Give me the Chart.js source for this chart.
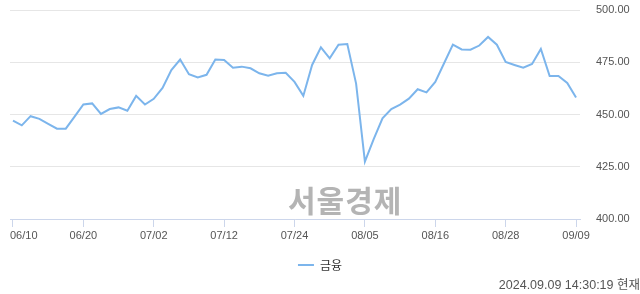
<!DOCTYPE html>
<html lang="ko">
<head>
<meta charset="utf-8">
<script src="https://cdn.jsdelivr.net/npm/chart.js@4/dist/chart.umd.min.js"></script>
<style>
  html, body { margin: 0; padding: 0; background: #fff; }
  #wrap { position: relative; width: 640px; height: 294px; overflow: hidden; }
  #c { position: absolute; left: 0; top: 0; }
  .mark {
    position: absolute; left: 288px; top: 177px;
    font: bold 30px "Noto Sans CJK KR", sans-serif; color: #b4b4b4;
    letter-spacing: 1px; pointer-events: none;
  }
  .stamp {
    position: absolute; right: 0; top: 274px;
    font: 12.5px "Liberation Sans", "Noto Sans CJK KR", sans-serif; color: #555;
    white-space: nowrap;
  }
</style>
</head>
<body>
<div id="wrap">
  <canvas id="c" width="640" height="294"></canvas>
  <div class="mark">서울경제</div>
  <div class="stamp">2024.09.09 14:30:19 현재</div>
</div>
<script>
// Trading days (MM/DD), one per point
const dates = [
  '06/10','06/11','06/12','06/13','06/14','06/17','06/18','06/19','06/20','06/21',
  '06/24','06/25','06/26','06/27','06/28','07/01','07/02','07/03','07/04','07/05',
  '07/08','07/09','07/10','07/11','07/12','07/15','07/16','07/17','07/18','07/19',
  '07/22','07/23','07/24','07/25','07/26','07/29','07/30','07/31','08/01','08/02',
  '08/05','08/06','08/07','08/08','08/09','08/12','08/13','08/14','08/16','08/19',
  '08/20','08/21','08/22','08/23','08/26','08/27','08/28','08/29','08/30','09/02',
  '09/03','09/04','09/05','09/06','09/09'
];

// 금융 index closing values
const finance = [
  447.1, 444.8, 449.2, 447.9, 445.5, 443.2, 443.2, 449.0, 454.8, 455.3,
  450.3, 452.6, 453.4, 451.8, 458.9, 454.8, 457.5, 462.7, 471.3, 476.3,
  469.3, 467.7, 469.0, 476.3, 476.1, 472.4, 472.9, 472.1, 469.7, 468.5,
  469.7, 470.0, 465.6, 458.9, 473.7, 482.1, 476.9, 483.4, 483.7, 464.8,
  427.4, 438.2, 448.2, 452.6, 454.7, 457.6, 462.1, 460.6, 465.6, 474.5,
  483.4, 481.1, 481.0, 483.0, 487.1, 483.4, 475.1, 473.7, 472.4, 474.2,
  481.4, 468.4, 468.4, 465.1, 458.1
];

// Dates shown on the x axis (every 8th trading day)
const xTickIdx = [0, 8, 16, 24, 32, 40, 48, 56, 64];
const yTicks = [400, 425, 450, 475, 500];

const points = finance.map((v, i) => ({ x: i, y: v }));

// Keep the first date label inside the plot's left edge instead of centring it
const firstLabelInside = {
  id: 'firstLabelInside',
  beforeDraw(chart) {
    const sx = chart.scales.x;
    const items = sx.getLabelItems(chart.chartArea);
    if (items && items.length) {
      items[0].options.textAlign = 'left';
      items[0].options.translation = [chart.chartArea.left, items[0].options.translation[1]];
    }
  }
};

new Chart(document.getElementById('c'), {
  type: 'line',
  data: {
    datasets: [{
      label: '금융',
      data: points,
      borderColor: '#7cb5ec',
      backgroundColor: '#7cb5ec',
      borderWidth: 2,
      pointRadius: 0,
      pointHoverRadius: 0,
      tension: 0,
      fill: false
    }]
  },
  plugins: [firstLabelInside],
  options: {
    responsive: false,
    animation: false,
    events: [],
    layout: { padding: { top: 10, left: 0, right: 0, bottom: 13 } },
    plugins: {
      tooltip: { enabled: false },
      legend: {
        position: 'bottom',
        labels: {
          usePointStyle: true,
          pointStyle: 'line',
          pointStyleWidth: 16,
          boxHeight: 12,
          padding: 13,
          color: '#333',
          font: { family: '"Noto Sans CJK KR", sans-serif', size: 12 }
        }
      }
    },
    scales: {
      x: {
        type: 'linear',
        min: -0.34,
        max: 64.45,
        afterBuildTicks: (s) => { s.ticks = xTickIdx.map(v => ({ value: v })); },
        afterFit: (s) => { s.height = 27; s.paddingLeft = 10; s.paddingRight = 0; },
        grid: {
          drawOnChartArea: false,
          drawTicks: true,
          tickLength: 8,
          color: '#ccd6eb'
        },
        border: { color: '#ccd6eb', width: 1 },
        ticks: {
          autoSkip: false,
          maxRotation: 0,
          padding: 2,
          color: '#555',
          font: { family: '"Liberation Sans", Arial, sans-serif', size: 11 },
          callback: (v) => dates[v]
        }
      },
      y: {
        position: 'right',
        min: 400,
        max: 500,
        afterBuildTicks: (s) => { s.ticks = yTicks.map(v => ({ value: v })); },
        afterFit: (s) => { s.width = 60; s.paddingTop = 0; s.paddingBottom = 0; },
        grid: { color: '#e6e6e6', drawTicks: false },
        border: { display: false },
        ticks: {
          padding: 16,
          color: '#555',
          font: { family: '"Liberation Sans", Arial, sans-serif', size: 11 },
          callback: (v) => v.toFixed(2)
        }
      }
    }
  }
});
</script>
</body>
</html>
